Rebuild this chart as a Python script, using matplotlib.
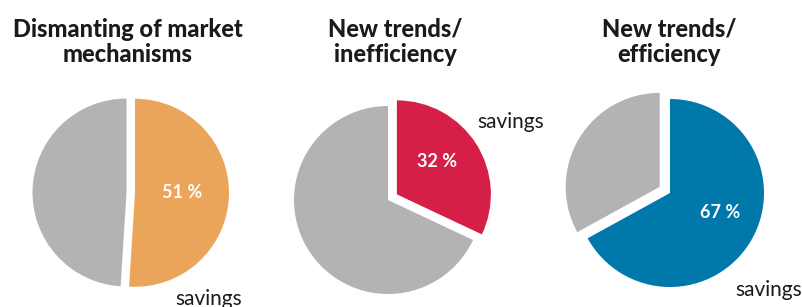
import matplotlib.pyplot as plt

# chart data
titles = ["Dismanting of market\nmechanisms", "New trends/\ninefficiency", "New trends/\nefficiency"]
savings_share = [51, 32, 67]
other_share = [49, 68, 33]
pct_labels = ["51 %", "32 %", "67 %"]
savings_colors = ["#EBA55A", "#D51F46", "#0079AA"]
other_color = "#B3B3B3"

# layout in pixels (y measured from top)
W, H = 803, 307
centers = [(126.5, 192.5), (388, 200), (670, 193)]
radius = 94
explodes = [(8.5, 0), (10.5, 0), (0, 12)]  # offset in pixels
title_x = [127.5, 395, 669]
pct_pos = [(182, 193), (437, 162), (720, 212)]
savings_pos = [(209, 299), (511, 122), (769, 290)]

plt.rcParams['font.family'] = ['Lato', 'DejaVu Sans']

fig = plt.figure(figsize=(W / 100, H / 100), dpi=100)
ax = fig.add_axes([0, 0, 1, 1])

for i in range(3):
    cx, cy = centers[i]
    ax.pie([savings_share[i], other_share[i]],
           colors=[savings_colors[i], other_color],
           explode=explodes[i],
           startangle=90, counterclock=False,
           center=(cx, H - cy), radius=radius,
           wedgeprops=dict(linewidth=0))
    ax.text(title_x[i], H - 42, titles[i], ha='center', va='center',
            fontsize=17, fontweight='black', color='#1a1a1a', linespacing=1.15)
    px, py = pct_pos[i]
    ax.text(px, H - py, pct_labels[i], ha='center', va='center',
            fontsize=13, fontweight='bold', color='white')
    sx, sy = savings_pos[i]
    ax.text(sx, H - sy, "savings", ha='center', va='center',
            fontsize=15, color='#1a1a1a')

ax.set_xlim(0, W)
ax.set_ylim(0, H)
ax.set_aspect('equal')
ax.axis('off')

plt.savefig("out.png", dpi=100)
